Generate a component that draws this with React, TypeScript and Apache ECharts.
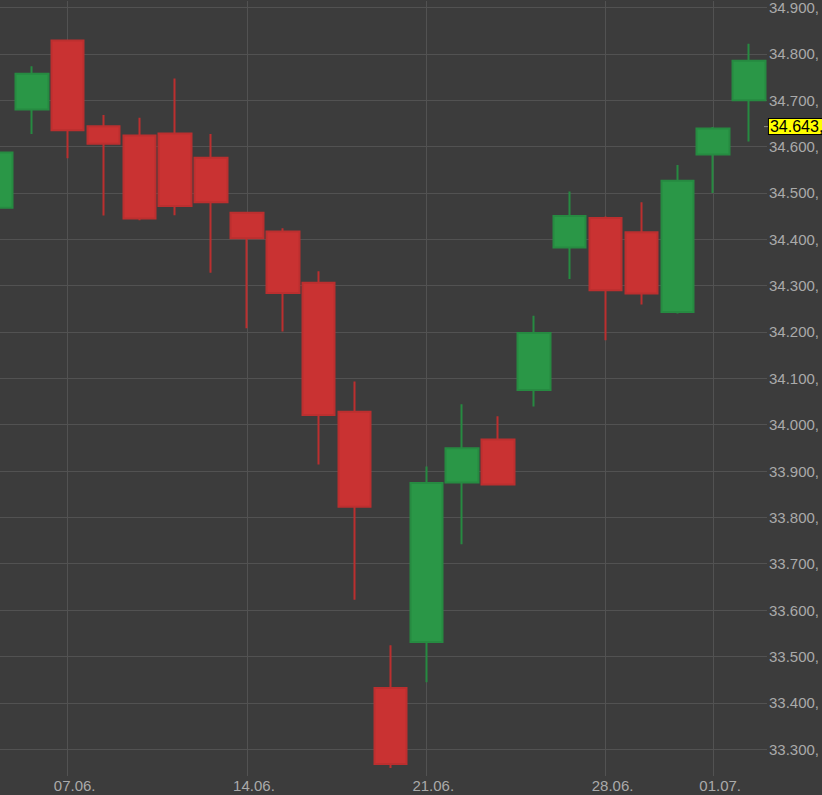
import { useEffect, useRef } from 'react'
import * as echarts from 'echarts'

// Tageskerzen 03.06. – 02.07. (Handelstage)
const DATES = [
  '03.06.', '04.06.',
  '07.06.', '08.06.', '09.06.', '10.06.', '11.06.',
  '14.06.', '15.06.', '16.06.', '17.06.', '18.06.',
  '21.06.', '22.06.', '23.06.', '24.06.', '25.06.',
  '28.06.', '29.06.', '30.06.', '01.07.', '02.07.',
]

const OPEN = [34468, 34680, 34829, 34644, 34624, 34628, 34576, 34457, 34417, 34306, 34028, 33432, 33531, 33875, 33968, 34075, 34382, 34446, 34415, 34243, 34583, 34700]
const CLOSE = [34587, 34757, 34635, 34606, 34445, 34472, 34480, 34402, 34284, 34021, 33823, 33268, 33874, 33949, 33871, 34198, 34450, 34290, 34283, 34526, 34639, 34785]
const LOW = [34450, 34627, 34575, 34451, 34441, 34452, 34328, 34208, 34201, 33914, 33622, 33259, 33444, 33742, 33869, 34039, 34314, 34182, 34259, 34240, 34500, 34611]
const HIGH = [34600, 34773, 34831, 34668, 34662, 34747, 34627, 34459, 34424, 34331, 34093, 33524, 33910, 34044, 34018, 34235, 34503, 34449, 34480, 34560, 34642, 34822]

const X_LABELS = ['07.06.', '14.06.', '21.06.', '28.06.', '01.07.']
const LAST_PRICE = 34643

const Y_MIN = 33242
const Y_MAX = 34914

const BG = '#3c3c3c'
const GRID = '#525252'
const LABEL = '#aaaaaa'
const UP = '#2a9747'
const UP_BORDER = '#268a41'
const DOWN = '#c93232'
const DOWN_BORDER = '#bb2f2f'
const FONT = 'Liberation Sans, Arial, sans-serif'

// erste Kerze ragt links aus dem Bild
const SHIFT = 22
const GRID_RIGHT = 55

// 34900 -> "34.900,"
const fmt = (v: number) => {
  const s = Math.round(v).toString()
  return s.replace(/\B(?=(\d{3})+(?!\d))/g, '.') + ','
}

export default function App() {
  const ref = useRef<HTMLDivElement>(null)

  useEffect(() => {
    if (!ref.current) return
    const chart = echarts.init(ref.current, undefined, { renderer: 'svg' })

    const candles = DATES.map((_, i) => [OPEN[i], CLOSE[i], LOW[i], HIGH[i]])

    chart.setOption({
      animation: false,
      backgroundColor: BG,
      grid: { left: 0, right: GRID_RIGHT, top: 0, bottom: 19, containLabel: false },
      xAxis: {
        type: 'category',
        data: DATES,
        boundaryGap: true,
        axisLine: { show: false },
        axisTick: { show: false },
        axisLabel: {
          interval: (_i: number, v: string) => X_LABELS.includes(v),
          color: LABEL,
          fontSize: 15,
          fontFamily: FONT,
          margin: 2,
          padding: [0, 0, 0, 14],
        },
        splitLine: {
          show: true,
          interval: (_i: number, v: string) => X_LABELS.includes(v),
          alignWithLabel: true,
          lineStyle: { color: GRID, width: 1 },
        },
      },
      yAxis: {
        type: 'value',
        position: 'right',
        min: Y_MIN,
        max: Y_MAX,
        minInterval: 100,
        maxInterval: 100,
        scale: true,
        axisLine: { show: false },
        axisTick: { show: false },
        axisLabel: {
          color: LABEL,
          fontSize: 15,
          fontFamily: FONT,
          margin: 2,
          showMinLabel: false,
          showMaxLabel: false,
          formatter: (v: number) => fmt(v),
        },
        splitLine: {
          show: true,
          showMinLine: false,
          showMaxLine: false,
          lineStyle: { color: GRID, width: 1 },
        },
      },
      series: [
        {
          type: 'candlestick',
          data: candles,
          barWidth: 33,
          itemStyle: {
            color: UP,
            color0: DOWN,
            borderColor: UP_BORDER,
            borderColor0: DOWN_BORDER,
            borderWidth: 2,
          },
          markLine: {
            silent: true,
            symbol: ['none', 'none'],
            lineStyle: { color: 'rgba(0,0,0,0)', width: 0 },
            data: [{ yAxis: LAST_PRICE }],
            label: {
              show: true,
              position: 'end',
              distance: 2,
              opacity: 1,
              formatter: () => fmt(LAST_PRICE),
              color: '#000',
              fontSize: 16,
              lineHeight: 14,
              fontFamily: FONT,
              backgroundColor: '#ffff00',
              borderColor: '#000',
              borderWidth: 1,
              padding: [1, 2, 0, 1],
            },
          },
        },
      ],
    })

    // kleiner Strich vor dem Kurs-Label
    const w = chart.getWidth()
    const py = chart.convertToPixel({ yAxisIndex: 0 }, LAST_PRICE) as number
    chart.setOption({
      graphic: [
        {
          type: 'line',
          silent: true,
          shape: { x1: w - GRID_RIGHT - 3, y1: py, x2: w - GRID_RIGHT + 2, y2: py },
          style: { stroke: '#8a8a8a', lineWidth: 1 },
        },
      ],
    })

    return () => chart.dispose()
  }, [])

  return (
    <div
      ref={ref}
      style={{ position: 'fixed', left: -SHIFT, top: 0, width: 822 + SHIFT, height: 795 }}
    />
  )
}
